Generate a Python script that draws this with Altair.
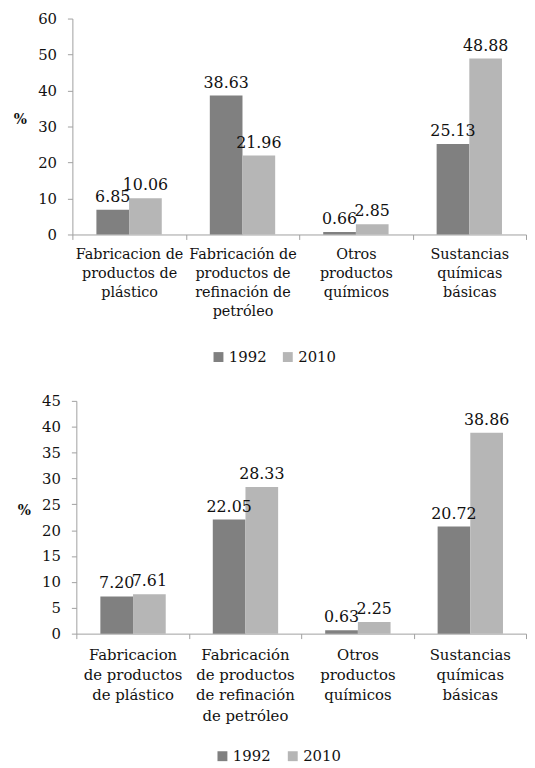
import altair as alt
import pandas as pd

FONT = "DejaVu Serif"

years = ["1992", "2010"]

labels_top = [
    "Fabricacion de\nproductos de\nplástico",
    "Fabricación de\nproductos de\nrefinación de\npetróleo",
    "Otros\nproductos\nquímicos",
    "Sustancias\nquímicas\nbásicas",
]
labels_bottom = [
    "Fabricacion\nde productos\nde plástico",
    "Fabricación\nde productos\nde refinación\nde petróleo",
    "Otros\nproductos\nquímicos",
    "Sustancias\nquímicas\nbásicas",
]

top_1992 = [6.85, 38.63, 0.66, 25.13]
top_2010 = [10.06, 21.96, 2.85, 48.88]
bottom_1992 = [7.20, 22.05, 0.63, 20.72]
bottom_2010 = [7.61, 28.33, 2.25, 38.86]

top_ticks = [0, 10, 20, 30, 40, 50, 60]
bottom_ticks = [0, 5, 10, 15, 20, 25, 30, 35, 40, 45]

COLORS = ["#808080", "#b6b6b6"]
TXT = "#111111"


def make_df(labels, v92, v10):
    rows = []
    for lab, a, b in zip(labels, v92, v10):
        rows.append({"cat": lab, "year": "1992", "value": a})
        rows.append({"cat": lab, "year": "2010", "value": b})
    return pd.DataFrame(rows)


def panel(labels, v92, v10, ticks, width, height, shift, fs, lh, lpad, legx, legy, colpad):
    df = make_df(labels, v92, v10)
    x = alt.X(
        "cat:N",
        sort=labels,
        scale=alt.Scale(paddingInner=0, paddingOuter=0, range=[shift, width]),
        axis=alt.Axis(
            title=None,
            labelAngle=0,
            labelExpr="split(datum.label, '\\n')",
            labelFont=FONT,
            labelFontSize=fs,
            labelLineHeight=lh,
            labelColor=TXT,
            labelPadding=lpad,
            labelBaseline="top",
            tickBand="extent",
            tickSize=5,
            tickColor="#a0a0a0",
            domainColor="#a0a0a0",
            labelLimit=200,
        ),
    )
    xoff = alt.XOffset("year:N", sort=years, scale=alt.Scale(paddingOuter=0.735, paddingInner=0))
    y = alt.Y(
        "value:Q",
        scale=alt.Scale(domain=[ticks[0], ticks[-1]], nice=False),
        axis=alt.Axis(
            values=ticks,
            grid=False,
            offset=-shift,
            title="%",
            titleAngle=0,
            titleFont=FONT,
            titleFontSize=14,
            titleFontWeight="bold",
            titleColor=TXT,
            titlePadding=18,
            labelFont=FONT,
            labelFontSize=15,
            labelColor=TXT,
            labelPadding=11,
            tickSize=5,
            tickColor="#a0a0a0",
            domainColor="#a0a0a0",
        ),
    )
    color = alt.Color(
        "year:N",
        sort=years,
        scale=alt.Scale(domain=years, range=COLORS),
        legend=alt.Legend(
            title=None,
            orient="none",
            direction="horizontal",
            legendX=legx,
            legendY=legy,
            symbolType="square",
            symbolSize=100,
            symbolStrokeWidth=0,
            labelFont=FONT,
            labelFontSize=15,
            labelColor=TXT,
            columnPadding=colpad,
            labelOffset=3,
        ),
    )
    bars = alt.Chart(df).mark_bar(stroke=None).encode(x=x, xOffset=xoff, y=y, color=color)
    text = alt.Chart(df).mark_text(
        baseline="bottom", dy=-5, font=FONT, fontSize=16, color=TXT
    ).encode(x=x, xOffset=xoff, y=y, text=alt.Text("value:Q", format=".2f"))
    return alt.layer(bars, text).properties(width=width, height=height)


top = panel(labels_top, top_1992, top_2010, top_ticks, 458, 218, 0, 14.5, 19.3, 8, 140, 334, 13)
bottom = panel(labels_bottom, bottom_1992, bottom_2010, bottom_ticks, 458, 235, 4, 15, 20.5, 9, 144, 351, 14)

chart = (
    alt.vconcat(top, bottom, spacing=29)
    .resolve_scale(color="independent")
    .resolve_legend(color="independent")
    .properties(padding={"left": 5, "top": 0, "right": 0, "bottom": 0})
    .configure_view(stroke=None)
)

chart.save("out.html", embed_options={"renderer": "svg", "actions": False})
